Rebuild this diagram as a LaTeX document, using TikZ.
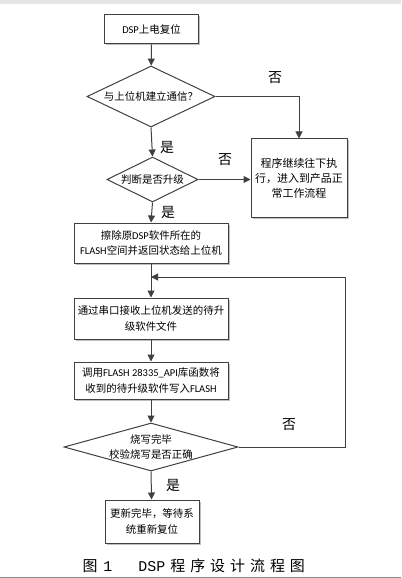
\documentclass[tikz,border=0pt]{standalone}
\usepackage{fontspec}
\setmainfont{Noto Sans CJK SC}
\newfontfamily\latf{Carlito}
\newfontfamily\capf{Liberation Mono}
\newcommand{\en}[1]{{\latf #1}}
\newcommand{\cg}{\hspace{5bp}}
\usetikzlibrary{arrows.meta,shapes.geometric,shadows}
\begin{document}
\begin{tikzpicture}[x=1bp,y=-1bp,
    line width=1bp,
    flow/.style={draw=black!75,-{Triangle[length=7bp,width=7bp]}},
    stepbox/.style={
      draw=black!75,
      fill=white,
      align=center,
      inner sep=0,
      font=\fontsize{10.5}{15.5}\selectfont,
      drop shadow={shadow xshift=1.5bp,shadow yshift=-1.5bp,fill=black!25,opacity=1}},
    decision/.style={
      diamond,
      draw=black!75,
      inner sep=0,
      label={[align=center,font=\fontsize{10.5}{15}\selectfont]center:#1}},
    answer/.style={font=\fontsize{14}{14}\selectfont}]
  \useasboundingbox (0,0) rectangle (401,578);
  \fill[black!10] (0,0) rectangle (401,4);
  \draw[black!45,line width=0.8bp] (0,577) -- (401,577);

  \node[stepbox,
    minimum width=94bp,
    minimum height=29bp] (dsp) at (151.5,29.5) {\en{DSP}上电复位};
  \node[decision={与上位机建立通信？},
    minimum width=128bp,
    minimum height=61bp] (link) at (151,96.5) {};
  \node[decision={判断是否升级},
    minimum width=91bp,
    minimum height=45bp] (upgrade) at (152.5,179.5) {};
  \node[stepbox,
    minimum width=96bp,
    minimum height=78bp,
    font=\fontsize{11}{15}\selectfont] (normal) at (299,178) {程序继续往下执\\行，进入到产品正\\常工作流程};
  \node[stepbox,
    minimum width=154bp,
    minimum height=40bp] (erase) at (151,243) {擦除原\en{DSP}软件所在的\\\en{FLASH}空间并返回状态给上位机};
  \node[stepbox,
    minimum width=154bp,
    minimum height=41bp] (receive) at (151,318.5) {通过串口接收上位机发送的待升\\级软件文件};
  \node[stepbox,
    minimum width=154bp,
    minimum height=37bp] (write) at (151,380.5) {调用\en{FLASH 28335\_API}库函数将\\收到的待升级软件写入\en{FLASH}};
  \node[decision={烧写完毕\\校验烧写是否正确},
    minimum width=174bp,
    minimum height=48bp] (verify) at (151,447) {};
  \node[stepbox,
    minimum width=94bp,
    minimum height=43bp] (done) at (152,521.5) {更新完毕，等待系\\统重新复位};

  \coordinate (back) at (345,277);
  \coordinate (join) at (erase.south |- back);

  \draw[flow] (dsp) -- (link);
  \draw[flow] (link.east) -| (normal.north);
  \draw[flow] (link.south) -- (upgrade.north);
  \draw[flow] (upgrade.east) -- (upgrade.east -| normal.west);
  \draw[flow] (upgrade.south) -- (erase.north);
  \draw[flow] (erase) -- (receive);
  \draw[flow] (receive) -- (write);
  \draw[flow] (write) -- (verify.north);
  \draw[flow] (verify.south) -- (done);
  \draw[flow] (verify.east) -| (back) -- (join);

  \node[answer] (no1) at (275,78) {否};
  \node[answer] (yes1) at (167,147) {是};
  \node[answer] (no2) at (225,160) {否};
  \node[answer] (yes2) at (168,212) {是};
  \node[answer] (no3) at (289,425) {否};
  \node[answer] (yes3) at (173,485) {是};

  \node[anchor=west,inner sep=0,font=\fontsize{15}{15}\selectfont] (caption) at (82,566)
    {图\hspace{6bp}{\capf 1}\hspace{26bp}{\capf DSP}\cg 程\cg 序\cg 设\cg 计\cg 流\cg 程\cg 图};
\end{tikzpicture}
\end{document}
